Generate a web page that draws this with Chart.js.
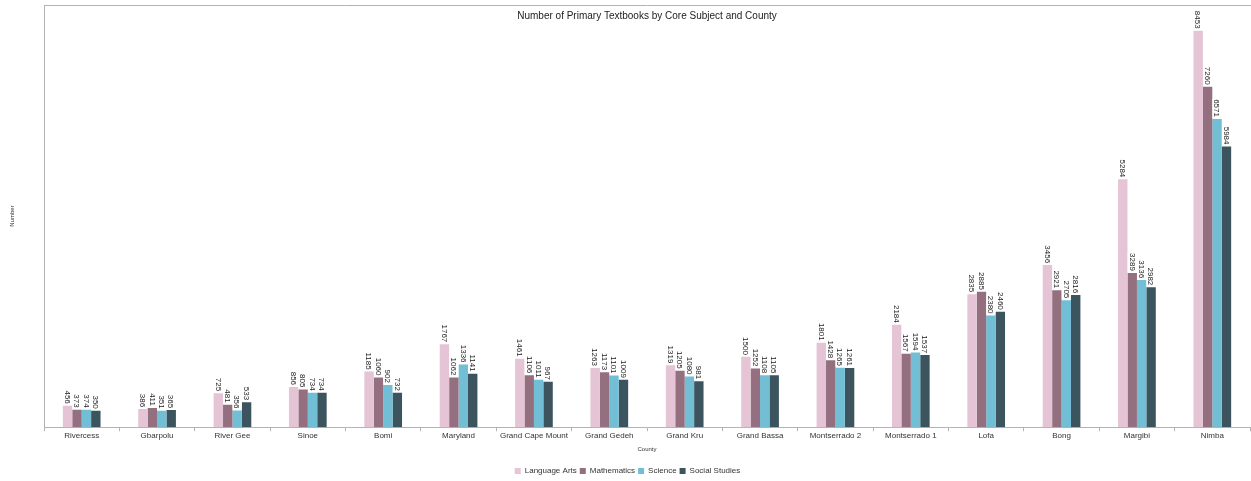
<!DOCTYPE html>
<html>
<head>
<meta charset="utf-8">
<script src="https://cdn.jsdelivr.net/npm/chart.js@4/dist/chart.umd.min.js"></script>
<style>
  html, body { margin: 0; padding: 0; background: #fff; }
  #wrap { width: 1251px; height: 481px; }
</style>
</head>
<body>
<div id="wrap"><canvas id="c" width="1251" height="481"></canvas></div>
<script>
// данные графика
var counties = ["Rivercess", "Gbarpolu", "River Gee", "Sinoe", "Bomi", "Maryland", "Grand Cape Mount",
	"Grand Gedeh", "Grand Kru", "Grand Bassa", "Montserrado 2", "Montserrado 1", "Lofa", "Bong", "Margibi", "Nimba"];
var languageArts  = [456, 386, 725, 856, 1185, 1767, 1461, 1263, 1319, 1500, 1801, 2184, 2835, 3456, 5284, 8453];
var mathematics   = [373, 411, 481, 805, 1060, 1062, 1106, 1173, 1205, 1252, 1428, 1567, 2885, 2921, 3289, 7260];
var science       = [374, 351, 356, 734, 902, 1336, 1011, 1101, 1080, 1108, 1265, 1594, 2380, 2705, 3136, 6571];
var socialStudies = [350, 365, 533, 734, 732, 1141, 967, 1009, 981, 1105, 1261, 1537, 2460, 2816, 2982, 5984];
var yMax = 9000;

var FONT = "'Liberation Sans', Arial, sans-serif";

// подписи над столбцами (повёрнуты на 90°), рамка сверху и заголовок
var barLabels = {
	id: 'barLabels',
	afterDatasetsDraw: function(chart) {
		var ctx = chart.ctx;
		ctx.save();
		ctx.font = "8px " + FONT;
		ctx.textAlign = "right";
		ctx.textBaseline = "middle";
		chart.data.datasets.forEach(function(ds, i) {
			var meta = chart.getDatasetMeta(i);
			meta.data.forEach(function(bar, j) {
				var txt = String(ds.data[j]);
				var w = ctx.measureText(txt).width;
				ctx.save();
				ctx.translate(bar.x, bar.y - 1);
				ctx.rotate(Math.PI / 2);
				ctx.fillStyle = "#fff";
				ctx.fillRect(-w - 2, -4.5, w + 2, 9);
				ctx.fillStyle = "#222";
				ctx.fillText(txt, -1, 0.5);
				ctx.restore();
			});
		});
		ctx.restore();
	},
	afterDraw: function(chart) {
		var ctx = chart.ctx, a = chart.chartArea;
		ctx.save();
		ctx.strokeStyle = "#b3b3b3";
		ctx.lineWidth = 1;
		ctx.beginPath();
		ctx.moveTo(a.left, a.top + 0.5);
		ctx.lineTo(1251, a.top + 0.5);
		ctx.stroke();
		ctx.fillStyle = "#222";
		ctx.font = "10px " + FONT;
		ctx.textAlign = "center";
		ctx.textBaseline = "middle";
		ctx.fillText("Number of Primary Textbooks by Core Subject and County", (a.left + a.right) / 2, 16);
		ctx.restore();
	}
};

new Chart(document.getElementById("c").getContext("2d"), {
	type: "bar",
	data: {
		labels: counties,
		datasets: [
			{ label: "Language Arts", data: languageArts, backgroundColor: "#e5c4d5" },
			{ label: "Mathematics", data: mathematics, backgroundColor: "#946f80" },
			{ label: "Science", data: science, backgroundColor: "#72bed5" },
			{ label: "Social Studies", data: socialStudies, backgroundColor: "#3b545e" }
		]
	},
	options: {
		responsive: false,
		animation: false,
		layout: { padding: { top: 5, right: 1, left: 5, bottom: -4 } },
		datasets: { bar: { categoryPercentage: 0.5, barPercentage: 1.0, borderWidth: 0 } },
		plugins: {
			legend: {
				position: "bottom",
				labels: { font: { size: 8, family: FONT }, color: "#333", boxWidth: 6, boxHeight: 6, padding: 3 }
			},
			tooltip: { enabled: false }
		},
		scales: {
			x: {
				grid: { display: true, drawOnChartArea: false, drawTicks: true, tickLength: 4, offset: true, color: "#b3b3b3" },
				border: { color: "#b3b3b3" },
				ticks: { font: { size: 8, family: FONT }, color: "#333", padding: 0, maxRotation: 0, autoSkip: false },
				title: { display: true, text: "County", font: { size: 6, family: FONT }, color: "#333", padding: { top: 5, bottom: 11 } }
			},
			y: {
				min: 0,
				max: yMax,
				grid: { display: false },
				border: { color: "#b3b3b3" },
				ticks: { display: false },
				title: { display: true, text: "Number", font: { size: 6, family: FONT }, color: "#333" },
				afterFit: function(scale) { scale.width = 39; }
			}
		}
	},
	plugins: [barLabels]
});
</script>
</body>
</html>
